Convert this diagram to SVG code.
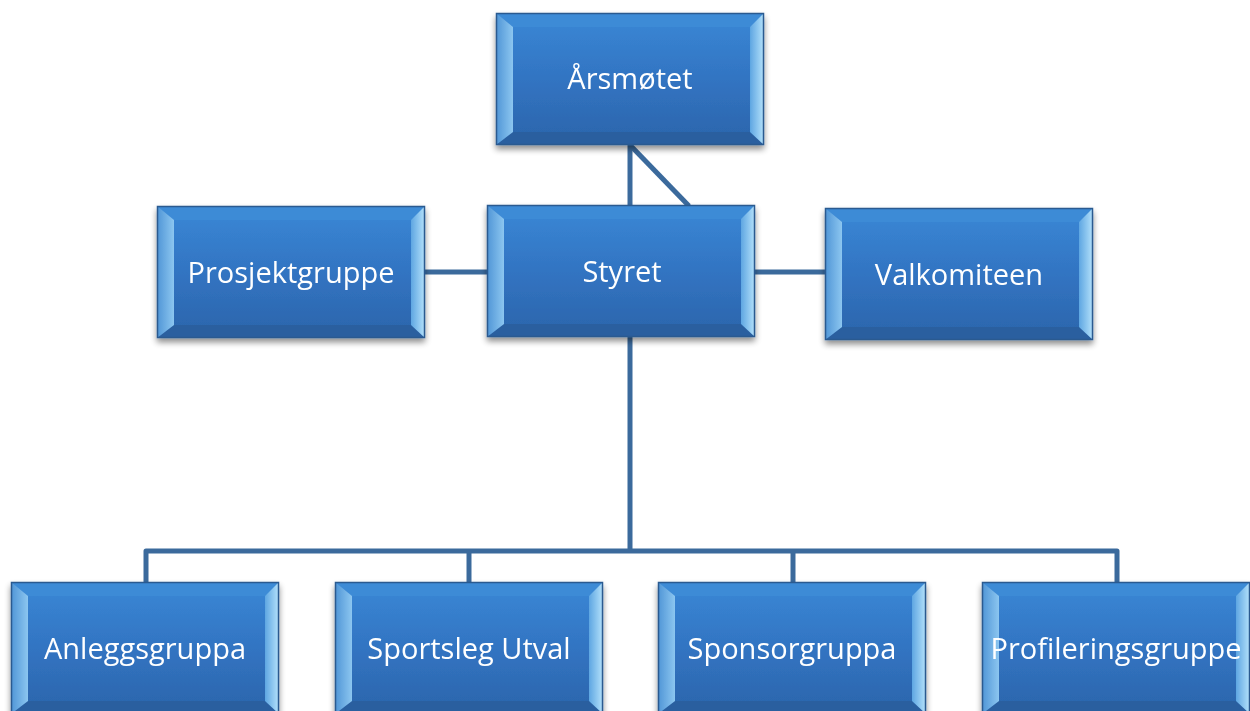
<svg xmlns="http://www.w3.org/2000/svg" width="1250" height="711" viewBox="0 0 1250 711">
<defs>
<linearGradient id="face" x1="0" y1="0" x2="0" y2="1">
<stop offset="0" stop-color="#3a88d6"/>
<stop offset="0.5" stop-color="#3274c2"/>
<stop offset="1" stop-color="#2b65ab"/>
</linearGradient>
<linearGradient id="lb" x1="0" y1="0" x2="1" y2="0">
<stop offset="0" stop-color="#4f95d6"/>
<stop offset="1" stop-color="#8cc6f0"/>
</linearGradient>
<linearGradient id="rb" x1="0" y1="0" x2="1" y2="0">
<stop offset="0" stop-color="#5ea6e2"/>
<stop offset="1" stop-color="#b5e2fb"/>
</linearGradient>
<filter id="sh" x="-10%" y="-10%" width="120%" height="130%">
<feGaussianBlur in="SourceAlpha" stdDeviation="3"/>
<feOffset dx="0" dy="4"/>
<feComponentTransfer><feFuncA type="linear" slope="0.45"/></feComponentTransfer>
<feMerge><feMergeNode/><feMergeNode in="SourceGraphic"/></feMerge>
</filter>
<g id="box">
<rect x="0" y="0" width="268" height="132" fill="url(#face)"/>
<polygon points="0,0 268,0 254,14 17,14" fill="#3e8bd6"/>
<polygon points="0,132 268,132 254,119 17,119" fill="#2a5f9f"/>
<polygon points="0,0 17,14 17,119 0,132" fill="url(#lb)"/>
<polygon points="268,0 254,14 254,119 268,132" fill="url(#rb)"/>
<rect x="0.5" y="0.5" width="267" height="131" fill="none" stroke="#2a5a90" stroke-width="1.5"/>
</g>
</defs>
<style>
.lbl{font-family:"Open Sans","Liberation Sans",sans-serif;font-size:29px;fill:#ffffff;text-anchor:middle}
.con{stroke:#3b6a9c;stroke-width:5;fill:none;stroke-linejoin:round}
</style>
<rect width="1250" height="711" fill="#ffffff"/>
<g id="connectors">
<line class="con" x1="630" y1="145" x2="630" y2="206"/>
<line class="con" x1="630" y1="145" x2="689" y2="206"/>
<line class="con" x1="424" y1="272" x2="488" y2="272"/>
<line class="con" x1="754" y1="272" x2="826" y2="272"/>
<line class="con" x1="630" y1="337" x2="630" y2="551"/>
<polyline class="con" points="146,583 146,551 1117,551 1117,583"/>
<line class="con" x1="469" y1="551" x2="469" y2="583"/>
<line class="con" x1="793" y1="551" x2="793" y2="583"/>
</g>
<g id="n-arsmotet" filter="url(#sh)"><use href="#box" x="496" y="13"/><text class="lbl" x="630" y="89">Årsmøtet</text></g>
<g id="n-prosjektgruppe" filter="url(#sh)"><use href="#box" x="157" y="206"/><text class="lbl" x="291" y="283">Prosjektgruppe</text></g>
<g id="n-styret" filter="url(#sh)"><use href="#box" x="487" y="205"/><text class="lbl" x="622" y="282">Styret</text></g>
<g id="n-valkomiteen" filter="url(#sh)"><use href="#box" x="825" y="208"/><text class="lbl" x="959" y="285">Valkomiteen</text></g>
<g id="n-anleggsgruppa" filter="url(#sh)"><use href="#box" x="11" y="582"/><text class="lbl" x="145" y="659">Anleggsgruppa</text></g>
<g id="n-sportsleg" filter="url(#sh)"><use href="#box" x="335" y="582"/><text class="lbl" x="469" y="659">Sportsleg Utval</text></g>
<g id="n-sponsorgruppa" filter="url(#sh)"><use href="#box" x="658" y="582"/><text class="lbl" x="792" y="659">Sponsorgruppa</text></g>
<g id="n-profilering" filter="url(#sh)"><use href="#box" x="982" y="582"/><text class="lbl" x="1116" y="659">Profileringsgruppe</text></g>
</svg>
